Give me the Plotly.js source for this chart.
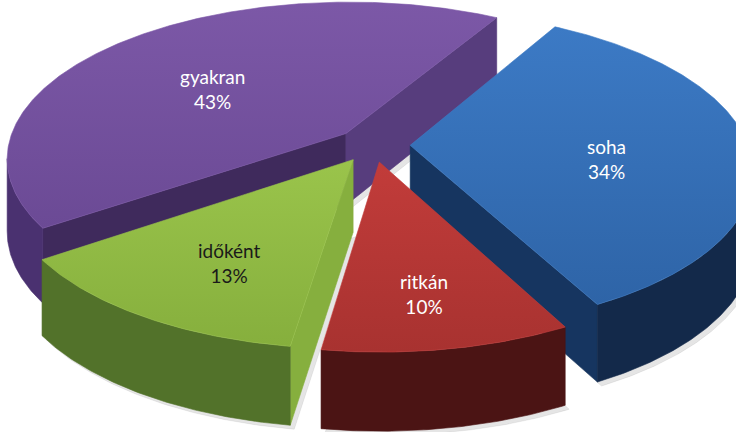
<!DOCTYPE html>
<html>
<head>
<meta charset="utf-8">
<script src="https://cdn.plot.ly/plotly-3.0.1.min.js"></script>
<style>html,body{margin:0;padding:0;background:#fff;}#chart{width:736px;height:432px;}</style>
</head>
<body>
<div id="chart"></div>
<script>
// ---- data ----
const categories = ['soha', 'ritkán', 'időként', 'gyakran'];
const values = [34, 10, 13, 43];

// ---- styles ----
const topColorsA = ['#3C7AC5', '#C23C3A', '#9AC44B', '#7C58A7'];
const topColorsB = ['#2E64A7', '#A83230', '#86AF3D', '#6B4A95'];
const wallColors = ['#13294A', '#4B1414', '#52722A', '#4A3170'];
const cutStartColors = ['#1A355C', '#6A1E1E', '#86AF3E', '#3F2A5C'];
const cutEndColors = ['#163560', '#6A1E1E', '#86AF3E', '#573D7D'];
const labelColors = ['#ffffff', '#ffffff', '#1a1a1a', '#ffffff'];
const labelRadius = [0.58, 0.68, 0.62, 0.58];

// ---- projection of a tilted, exploded 3D pie ----
const W = 736, H = 432;
const cx = 373, cy = 145, rx = 338, ry = 155, D = 6.5, th = 72;
const explode = 0.11, startDeg = 30;
const rad = Math.PI / 180;

function proj(X, Z, b) {
  const s = D / (D + Z);
  return [cx + rx * X * s, cy - ry * Z * s + b * th * Math.sqrt(s)];
}

const total = values.reduce((a, b) => a + b, 0);
const slices = [];
let acc = startDeg;
values.forEach((v, i) => {
  const a0 = acc, a1 = acc + v / total * 360;
  acc = a1;
  const mid = (a0 + a1) / 2;
  const ox = explode * Math.sin(mid * rad), oz = explode * Math.cos(mid * rad);
  slices.push({i, a0, a1, mid, ox, oz});
});

function pt(sl, ang, r, b) {
  return proj(sl.ox + r * Math.sin(ang * rad), sl.oz + r * Math.cos(ang * rad), b);
}
function arc(sl, from, to, b) {
  const n = Math.max(2, Math.ceil(Math.abs(to - from) / 0.5));
  const out = [];
  for (let k = 0; k <= n; k++) out.push(pt(sl, from + (to - from) * k / n, 1, b));
  return out;
}

const traces = [];
function poly(points, color, grad) {
  const xs = points.map(p => p[0]); const ys = points.map(p => H - p[1]);
  xs.push(xs[0]); ys.push(ys[0]);
  const t = {type: 'scatter', mode: 'lines', x: xs, y: ys, fill: 'toself',
    fillcolor: color, line: {width: 0.6, color: color}, hoverinfo: 'skip', showlegend: false};
  if (grad) t.fillgradient = {type: 'vertical', colorscale: [[0, grad[1]], [1, grad[0]]]};
  traces.push(t);
}

// soft shadows
slices.forEach(sl => {
  const pts = arc(sl, sl.a0, sl.a1, 1).map(p => [p[0] + 4, p[1] + 4]);
  const c = proj(sl.ox, sl.oz, 1);
  pts.unshift([c[0] + 4, c[1] + 4]);
  poly(pts, 'rgba(0,0,0,0.10)');
});

// back to front
const order = slices.slice().sort((p, q) => Math.cos(q.mid * rad) - Math.cos(p.mid * rad));
order.forEach(sl => {
  const i = sl.i;
  const c0 = proj(sl.ox, sl.oz, 0), c1 = proj(sl.ox, sl.oz, 1);
  // radial cut faces, visible when they face the viewer at (0, -D)
  const vx = -sl.ox, vz = -D - sl.oz;
  const faces = [
    {ang: sl.a0, n: [-Math.cos(sl.a0 * rad), Math.sin(sl.a0 * rad)], col: cutStartColors[i]},
    {ang: sl.a1, n: [Math.cos(sl.a1 * rad), -Math.sin(sl.a1 * rad)], col: cutEndColors[i]}
  ];
  faces.forEach(f => {
    if (vx * f.n[0] + vz * f.n[1] > 0) {
      poly([c0, pt(sl, f.ang, 1, 0), pt(sl, f.ang, 1, 1), c1], f.col);
    }
  });
  // outer wall: the part of the rim where the projected rim moves leftwards
  const step = 0.5;
  let seg = null;
  const segs = [];
  for (let a = sl.a0; a < sl.a1 - 1e-9; a += step) {
    const b = Math.min(a + step, sl.a1);
    const vis = pt(sl, b, 1, 0)[0] < pt(sl, a, 1, 0)[0];
    if (vis) { if (!seg) { seg = [a, b]; segs.push(seg); } else seg[1] = b; }
    else seg = null;
  }
  segs.forEach(s => {
    const topArc = arc(sl, s[0], s[1], 0);
    const botArc = arc(sl, s[0], s[1], 1).reverse();
    poly(topArc.concat(botArc), wallColors[i]);
  });
  // top face
  poly([c0].concat(arc(sl, sl.a0, sl.a1, 0)), topColorsA[i], [topColorsA[i], topColorsB[i]]);
});

// labels
const annotations = slices.map(sl => {
  const p = pt(sl, sl.mid, labelRadius[sl.i], 0);
  return {x: p[0], y: H - (p[1] + 12), xref: 'x', yref: 'y', showarrow: false,
    text: categories[sl.i] + '<br>' + Math.round(values[sl.i] / total * 100) + '%',
    font: {family: 'Lato, Carlito, sans-serif', size: 19, color: labelColors[sl.i]}, align: 'center'};
});

const layout = {
  width: W, height: H, margin: {l: 0, r: 0, t: 0, b: 0},
  paper_bgcolor: '#ffffff', plot_bgcolor: '#ffffff', showlegend: false,
  xaxis: {range: [0, W], visible: false, fixedrange: true},
  yaxis: {range: [0, H], visible: false, fixedrange: true},
  annotations: annotations
};
Plotly.newPlot('chart', traces, layout, {staticPlot: true, displayModeBar: false});
</script>
</body>
</html>
